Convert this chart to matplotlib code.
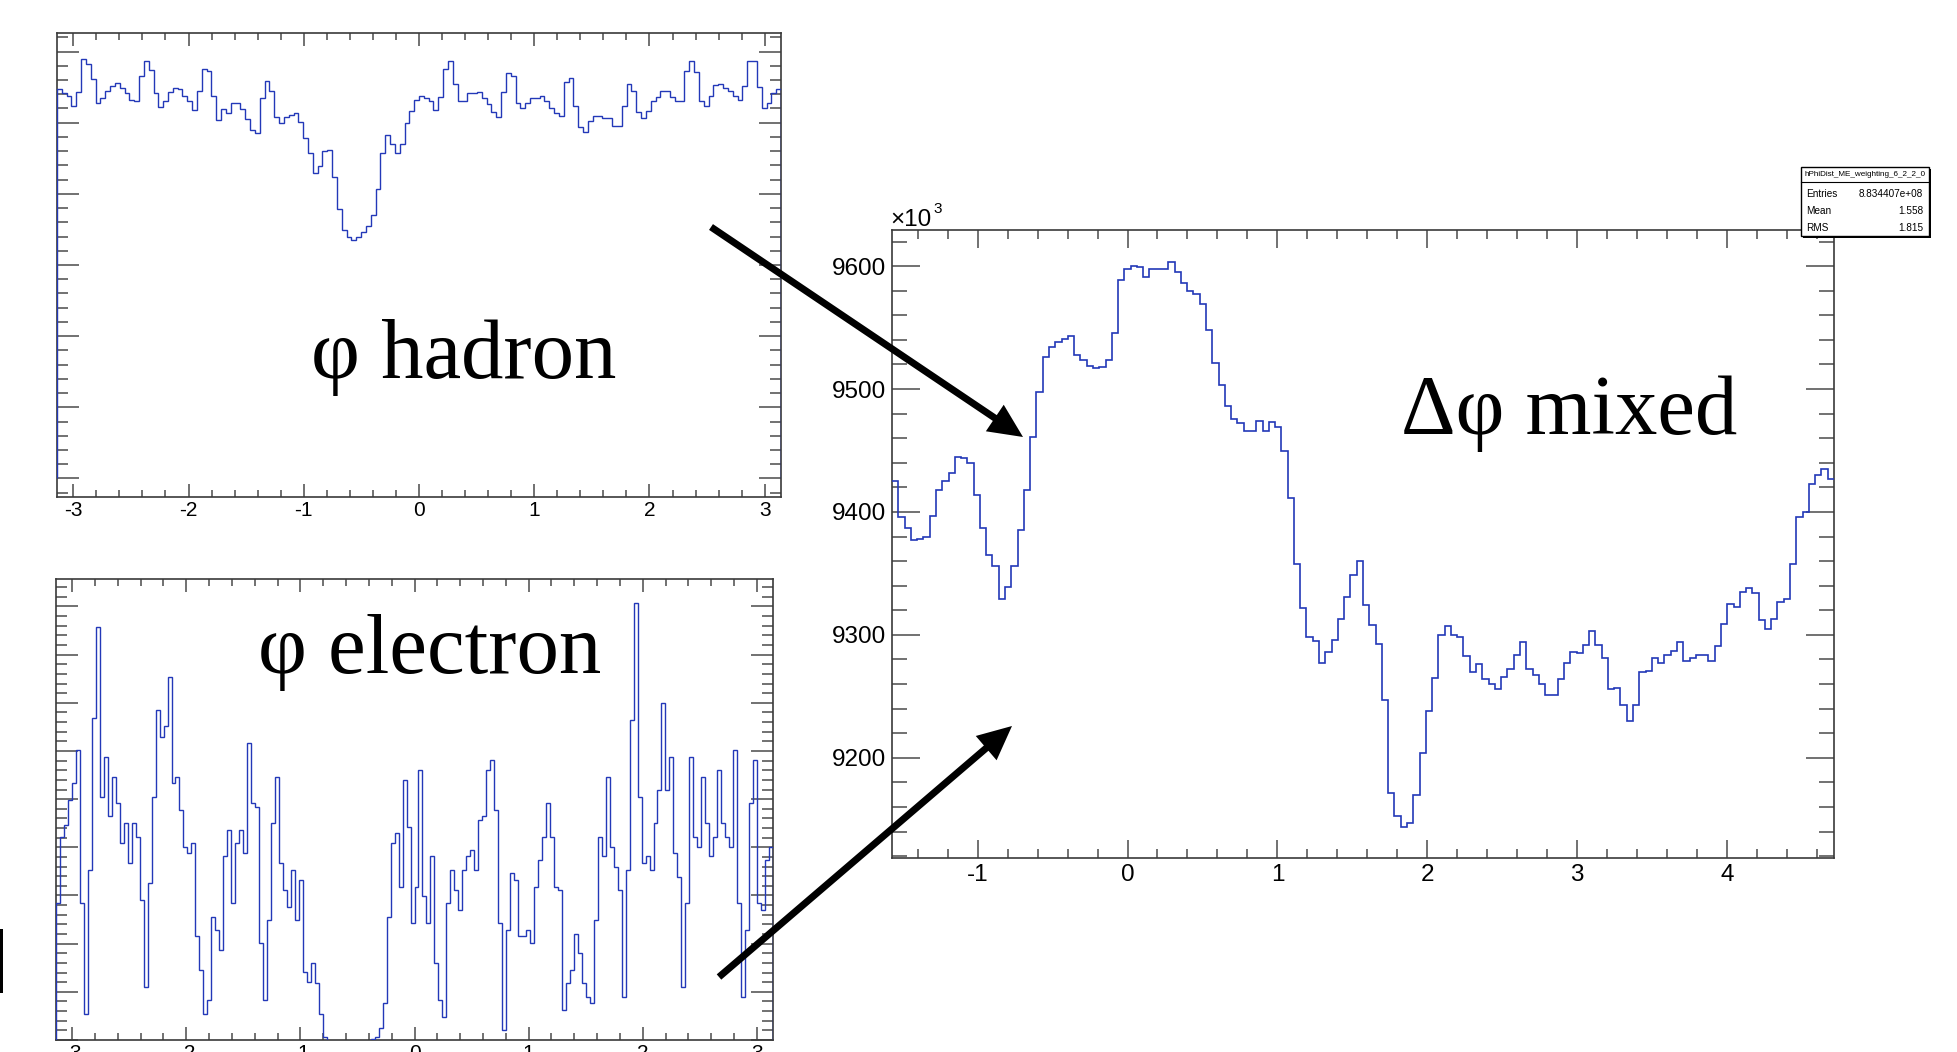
import numpy as np
import matplotlib
matplotlib.use('Agg')
import matplotlib.pyplot as plt
from matplotlib.ticker import MultipleLocator, FormatStrFormatter
from matplotlib.patches import FancyArrow, Rectangle

plt.rcParams['font.family'] = ['Liberation Sans', 'DejaVu Sans']
plt.rcParams['axes.unicode_minus'] = False

# phi of hadrons, 150 bins over [-pi, pi] (arbitrary units, no y labels in the slide)
hadron_counts = [548, 542, 537, 524, 543, 590, 583, 562, 527, 534,
                 545, 551, 556, 549, 541, 532, 530, 565, 587, 574,
                 542, 522, 531, 543, 549, 547, 537, 531, 518, 544,
                 576, 573, 538, 504, 519, 514, 527, 528, 519, 505,
                 490, 485, 534, 558, 545, 508, 500, 508, 511, 514,
                 501, 478, 457, 429, 439, 460, 461, 424, 379, 349,
                 340, 335, 340, 346, 355, 370, 407, 457, 482, 470,
                 457, 470, 500, 517, 532, 538, 535, 531, 518, 536,
                 576, 586, 555, 531, 531, 542, 542, 543, 534, 526,
                 515, 508, 543, 570, 566, 527, 521, 527, 534, 535,
                 537, 530, 520, 513, 510, 557, 563, 524, 494, 487,
                 502, 509, 509, 507, 506, 496, 495, 524, 554, 545,
                 515, 506, 517, 531, 536, 545, 544, 536, 531, 531,
                 573, 586, 571, 531, 524, 538, 553, 555, 549, 544,
                 537, 532, 552, 587, 587, 550, 521, 527, 542, 548]

# phi of electrons, 180 bins over [-pi, pi]
electron_counts = [284, 422, 446, 498, 533, 602, 284, 55, 353, 668,
                   858, 505, 588, 464, 547, 491, 408, 450, 367, 450,
                   422, 291, 111, 325, 505, 685, 630, 651, 754, 533,
                   547, 478, 401, 388, 408, 215, 145, 55, 83, 256,
                   228, 187, 381, 436, 284, 408, 436, 388, 616, 491,
                   484, 201, 83, 249, 450, 547, 367, 311, 277, 353,
                   249, 332, 142, 121, 159, 118, 55, 7, -40, -40,
                   -40, -40, -40, -40, -40, -40, -40, -40, -40, 2,
                   7, 24, 76, 256, 408, 429, 318, 540, 443, 242,
                   318, 561, 298, 242, 381, 159, 83, 48, 284, 353,
                   311, 270, 353, 381, 394, 353, 457, 464, 561, 581,
                   478, 242, 21, 228, 346, 332, 215, 215, 228, 201,
                   318, 374, 422, 491, 422, 318, 311, 62, 118, 145,
                   221, 180, 118, 90, 76, 249, 422, 381, 547, 401,
                   360, 311, 90, 353, 664, 907, 505, 367, 381, 353,
                   450, 519, 699, 519, 588, 388, 339, 111, 284, 588,
                   422, 401, 547, 450, 381, 422, 561, 450, 422, 401,
                   602, 284, 90, 228, 491, 581, 284, 270, 374, 401]

# mixed-event delta phi, 150 bins over [-pi/2, 3pi/2], in units of 10^3
mixed_counts = [9425, 9396, 9387, 9377, 9378, 9380, 9397, 9418, 9425, 9432,
                9445, 9444, 9440, 9414, 9387, 9365, 9356, 9329, 9339, 9356,
                9385, 9418, 9461, 9498, 9526, 9534, 9538, 9541, 9543, 9528,
                9524, 9519, 9517, 9518, 9524, 9546, 9589, 9598, 9600, 9599,
                9591, 9598, 9598, 9598, 9603, 9595, 9586, 9580, 9577, 9569,
                9548, 9521, 9503, 9486, 9476, 9472, 9466, 9466, 9474, 9466,
                9473, 9469, 9450, 9411, 9358, 9322, 9298, 9295, 9277, 9286,
                9296, 9313, 9331, 9349, 9360, 9324, 9308, 9293, 9247, 9171,
                9153, 9144, 9147, 9170, 9204, 9238, 9265, 9300, 9307, 9300,
                9298, 9283, 9270, 9276, 9264, 9260, 9256, 9266, 9272, 9284,
                9294, 9272, 9267, 9260, 9251, 9251, 9264, 9277, 9286, 9285,
                9292, 9303, 9292, 9281, 9256, 9257, 9243, 9230, 9243, 9270,
                9271, 9281, 9277, 9284, 9287, 9294, 9279, 9281, 9284, 9284,
                9279, 9291, 9309, 9325, 9323, 9335, 9338, 9334, 9312, 9305,
                9313, 9327, 9329, 9358, 9396, 9400, 9423, 9430, 9435, 9427]

stats_title = 'hPhiDist_ME_weighting_6_2_2_0'
stats_names = ['Entries', 'Mean', 'RMS']
stats_values = ['8.834407e+08', '1.558', '1.815']

line_blue = '#2338b8'
W, H = 1957, 1052


def frame_style(ax, xlen, ylen, ymaj, ymin):
    ax.xaxis.set_major_locator(MultipleLocator(1))
    ax.xaxis.set_minor_locator(MultipleLocator(0.2))
    ax.yaxis.set_major_locator(MultipleLocator(ymaj))
    ax.yaxis.set_minor_locator(MultipleLocator(ymin))
    ax.tick_params(which='both', direction='in', top=True, right=True,
                   color='#4a4a4a', width=1.1)
    ax.tick_params(axis='x', which='major', length=xlen[0])
    ax.tick_params(axis='x', which='minor', length=xlen[1])
    ax.tick_params(axis='y', which='major', length=ylen[0])
    ax.tick_params(axis='y', which='minor', length=ylen[1])
    for s in ax.spines.values():
        s.set_color('#3a3a3a')
        s.set_linewidth(1.2)


def px_axes(fig, x0, y0, x1, y1):
    return fig.add_axes([x0 / W, 1 - y1 / H, (x1 - x0) / W, (y1 - y0) / H])


fig = plt.figure(figsize=(W / 100, H / 100), dpi=100)

# hadron phi
ax1 = px_axes(fig, 57, 33, 781, 497)
edges = np.linspace(-np.pi, np.pi, len(hadron_counts) + 1)
ax1.stairs(hadron_counts, edges, baseline=0, color=line_blue, lw=1.0, zorder=3)
ax1.set_xlim(-np.pi, np.pi)
ax1.set_ylim(-26, 626)
frame_style(ax1, (9.5, 5), (15.8, 7.9), 100, 20)
ax1.tick_params(labelleft=False, labelsize=15, pad=3)

# electron phi
ax2 = px_axes(fig, 56, 579, 773, 1040)
edges = np.linspace(-np.pi, np.pi, len(electron_counts) + 1)
ax2.stairs(electron_counts, edges, baseline=0, color=line_blue, lw=1.0, zorder=3)
ax2.set_xlim(-np.pi, np.pi)
ax2.set_ylim(0, 957)
frame_style(ax2, (9.5, 5), (15.8, 7.9), 100, 20)
ax2.tick_params(labelleft=False, labelsize=15, pad=3)

# mixed delta phi
ax3 = px_axes(fig, 892, 230, 1834, 858)
edges = np.linspace(-np.pi / 2, 3 * np.pi / 2, len(mixed_counts) + 1)
ax3.stairs(mixed_counts, edges, baseline=None, color=line_blue, lw=1.2, zorder=3)
ax3.set_xlim(-np.pi / 2, 3 * np.pi / 2)
ax3.set_ylim(9118.5, 9629.4)
frame_style(ax3, (13, 6.5), (20, 10.8), 100, 20)
ax3.yaxis.set_major_formatter(FormatStrFormatter('%d'))
ax3.tick_params(labelsize=17.5, pad=4)

# overlay in pixel coordinates for arrows, labels and the stats box
ov = fig.add_axes([0, 0, 1, 1], zorder=10)
ov.set_xlim(0, W)
ov.set_ylim(H, 0)
ov.axis('off')
ov.patch.set_alpha(0)

ov.add_patch(FancyArrow(711, 227, 312, 210, width=7, head_width=32, head_length=34,
                        length_includes_head=True, fc='black', ec='none'))
ov.add_patch(FancyArrow(719, 977, 293, -251, width=7, head_width=32, head_length=34,
                        length_includes_head=True, fc='black', ec='none'))
ov.add_patch(Rectangle((0, 929), 3, 64, fc='black', ec='none'))

serif = ['Liberation Serif', 'DejaVu Serif']
ov.text(311, 378, 'φ hadron', family=serif, fontsize=61, va='baseline', ha='left')
ov.text(258, 673, 'φ electron', family=serif, fontsize=61, va='baseline', ha='left')
ov.text(1401, 434, 'Δφ mixed', family=serif, fontsize=61, va='baseline', ha='left')

# x10^3 multiplier
ov.text(890, 226, '×10', fontsize=17.5, va='baseline', ha='left')
ov.text(933, 213, '3', fontsize=11, va='baseline', ha='left')

# stats box
ov.add_patch(Rectangle((1803, 169), 128, 69, fc='black', ec='none'))
ov.add_patch(Rectangle((1801, 167), 128, 69, fc='white', ec='black', lw=1.0))
ov.plot([1801, 1929], [182, 182], color='black', lw=0.8)
ov.text(1865, 175, stats_title, fontsize=5.9, ha='center', va='center')
for i, (name, val) in enumerate(zip(stats_names, stats_values)):
    y = 194 + i * 17
    ov.text(1806, y, name, fontsize=7.2, ha='left', va='center')
    ov.text(1923, y, val, fontsize=7.2, ha='right', va='center')

fig.savefig('out.png', dpi=100)
